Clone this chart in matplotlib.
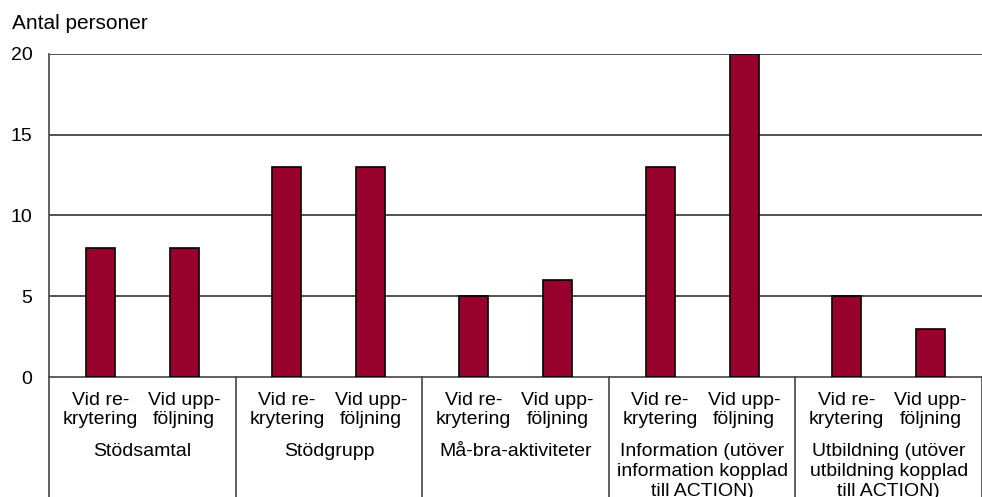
import matplotlib
matplotlib.use("Agg")
import matplotlib.pyplot as plt
import matplotlib.transforms as mtransforms

groups = ["Stödsamtal", "Stödgrupp", "Må-bra-aktiviteter",
          "Information (utöver\ninformation kopplad\ntill ACTION)",
          "Utbildning (utöver\nutbildning kopplad\ntill ACTION)"]
sub_labels = ["Vid re-\nkrytering", "Vid upp-\nföljning"]
rekrytering = [8, 13, 5, 13, 5]
uppfoljning = [8, 13, 6, 20, 3]
y_ticks = [0, 5, 10, 15, 20]

plt.rcParams['font.family'] = ['Liberation Sans', 'DejaVu Sans']

W, H = 982, 497
fig = plt.figure(figsize=(W / 100, H / 100), dpi=100)
ax = fig.add_axes([49 / W, 1 - 377 / H, (982 - 49) / W, (377 - 54) / H])

bar_color = "#98002E"
off = 0.225
bw = 0.155
n = len(groups)
xs_r = [i - off for i in range(n)]
xs_u = [i + off for i in range(n)]

for y in y_ticks[1:]:
    ax.axhline(y, color="#222222", lw=1.1, zorder=1)

ax.bar(xs_r, rekrytering, width=bw, color=bar_color, edgecolor="black", lw=1.2, zorder=3)
ax.bar(xs_u, uppfoljning, width=bw, color=bar_color, edgecolor="black", lw=1.2, zorder=3)

ax.set_xlim(-0.5, n - 0.5)
ax.set_ylim(0, 20)
ax.set_yticks(y_ticks)
ax.set_yticklabels([str(v) for v in y_ticks], fontsize=14)
ax.tick_params(axis='y', length=0, pad=12)
ax.set_xticks([])
for s in ["top", "right"]:
    ax.spines[s].set_visible(False)
ax.spines["left"].set_color("#444444")
ax.spines["bottom"].set_color("#444444")
ax.spines["left"].set_linewidth(1.2)
ax.spines["bottom"].set_linewidth(1.2)

trans = mtransforms.blended_transform_factory(ax.transData, ax.transAxes)
px = 1 / 323.0
for b in range(n + 1):
    ax.plot([b - 0.5, b - 0.5], [0, -0.45], transform=trans, color="#444444",
            lw=1.2, clip_on=False)

for i in range(n):
    for x, lab in ((xs_r[i], sub_labels[0]), (xs_u[i], sub_labels[1])):
        ax.text(x, -(410 - 377) * px, lab, transform=trans, ha="center", va="center",
                fontsize=14, linespacing=1.15)
    ax.text(i, -(443 - 377) * px, groups[i], transform=trans, ha="center", va="top",
            fontsize=14, linespacing=1.22)

fig.text(12 / W, 1 - 29 / H, "Antal personer", fontsize=15, ha="left", va="baseline")

fig.savefig("out.png", dpi=100)
